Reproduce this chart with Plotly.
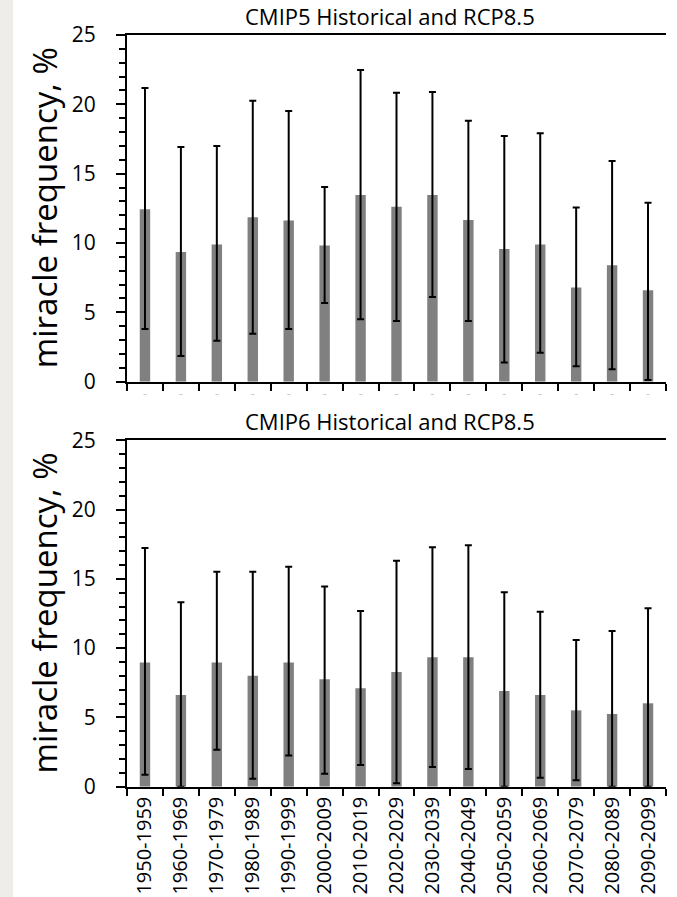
import plotly.graph_objects as go

W, H = 677, 897

decades = ["1950-1959", "1960-1969", "1970-1979", "1980-1989", "1990-1999",
           "2000-2009", "2010-2019", "2020-2029", "2030-2039", "2040-2049",
           "2050-2059", "2060-2069", "2070-2079", "2080-2089", "2090-2099"]

cmip5_mean = [12.43, 9.35, 9.90, 11.85, 11.63, 9.83, 13.46, 12.62, 13.46, 11.66,
              9.57, 9.90, 6.80, 8.39, 6.59]
cmip5_high = [21.18, 16.92, 17.00, 20.26, 19.52, 14.04, 22.48, 20.84, 20.89, 18.82,
              17.72, 17.91, 12.57, 15.91, 12.91]
cmip5_low = [3.80, 1.85, 2.96, 3.46, 3.80, 5.67, 4.50, 4.38, 6.11, 4.38,
             1.39, 2.09, 1.11, 0.89, 0.12]

cmip6_mean = [8.97, 6.62, 8.97, 8.01, 8.97, 7.75, 7.10, 8.28, 9.34, 9.34,
              6.91, 6.62, 5.51, 5.25, 6.02]
cmip6_high = [17.23, 13.31, 15.52, 15.52, 15.88, 14.44, 12.68, 16.31, 17.28, 17.42,
              14.03, 12.63, 10.59, 11.24, 12.87]
cmip6_low = [0.87, 0.0, 2.67, 0.58, 2.26, 0.94, 1.56, 0.24, 1.42, 1.28,
             0.0, 0.65, 0.46, 0.0, 0.0]

titles = ["CMIP5 Historical and RCP8.5", "CMIP6 Historical and RCP8.5"]
y_title = "miracle frequency, %"

FONT = "Open Sans"


def px_x(p):
    return p / W


def px_y(p):
    return 1 - p / H


fig = go.Figure()

for mean, hi, lo, xa, ya in [(cmip5_mean, cmip5_high, cmip5_low, "x", "y"),
                             (cmip6_mean, cmip6_high, cmip6_low, "x2", "y2")]:
    fig.add_trace(go.Bar(
        x=decades, y=mean, xaxis=xa, yaxis=ya,
        marker=dict(color="#808080", line=dict(width=0)),
        width=0.29,
        error_y=dict(type="data", symmetric=False,
                     array=[h - m for h, m in zip(hi, mean)],
                     arrayminus=[m - l for m, l in zip(mean, lo)],
                     color="black", thickness=2, width=3.5),
        showlegend=False,
    ))

xdom = [px_x(127), px_x(666)]
top_dom = [px_y(381.7), px_y(35)]
bot_dom = [px_y(786.7), px_y(440.3)]

common_x = dict(
    domain=xdom, type="category", range=[-0.5, 14.5],
    showline=True, linecolor="black", linewidth=2, mirror=True,
    ticks="outside", ticklen=7, tickwidth=2, tickcolor="black",
    tickson="boundaries", showgrid=False, zeroline=False, automargin=False,
)
common_y = dict(
    range=[0, 25], dtick=5, tick0=0,
    showline=True, linecolor="black", linewidth=2,
    ticks="outside", ticklen=9, tickwidth=2, tickcolor="black",
    minor=dict(dtick=1, ticks="outside", ticklen=6, tickwidth=1.5, tickcolor="black"),
    showgrid=False, zeroline=False, automargin=False,
    tickfont=dict(family=FONT, size=21, color="black"),
    ticklabelstandoff=16,
)

fig.update_layout(
    width=W, height=H, autosize=False,
    margin=dict(l=0, r=0, t=0, b=0, pad=0),
    paper_bgcolor="white", plot_bgcolor="white",
    xaxis=dict(common_x, anchor="y", tickvals=decades, ticktext=["-"] * len(decades),
               tickangle=0, tickfont=dict(family=FONT, size=12, color="#c8c8c8")),
    yaxis=dict(common_y, domain=top_dom, anchor="x"),
    xaxis2=dict(common_x, anchor="y2", tickangle=-90,
                tickfont=dict(family=FONT, size=20, color="black")),
    yaxis2=dict(common_y, domain=bot_dom, anchor="x2"),
    bargap=0.7,
)

annotations = []
for t, yc in [(titles[0], 15.7), (titles[1], 420.7)]:
    annotations.append(dict(text=t, x=px_x(390), y=px_y(yc), xref="paper", yref="paper",
                            xanchor="center", yanchor="middle", showarrow=False,
                            font=dict(family=FONT, size=22, color="black")))
for yc in [208.3, 613.5]:
    annotations.append(dict(text=y_title, x=px_x(44), y=px_y(yc), xref="paper", yref="paper",
                            xanchor="center", yanchor="middle", showarrow=False, textangle=-90,
                            font=dict(family=FONT, size=33, color="black")))
fig.update_layout(annotations=annotations)

fig.add_shape(type="rect", xref="paper", yref="paper", x0=0, x1=px_x(13), y0=0, y1=1,
              fillcolor="#efede9", line=dict(width=0), layer="below")

fig.write_html("out.html")
